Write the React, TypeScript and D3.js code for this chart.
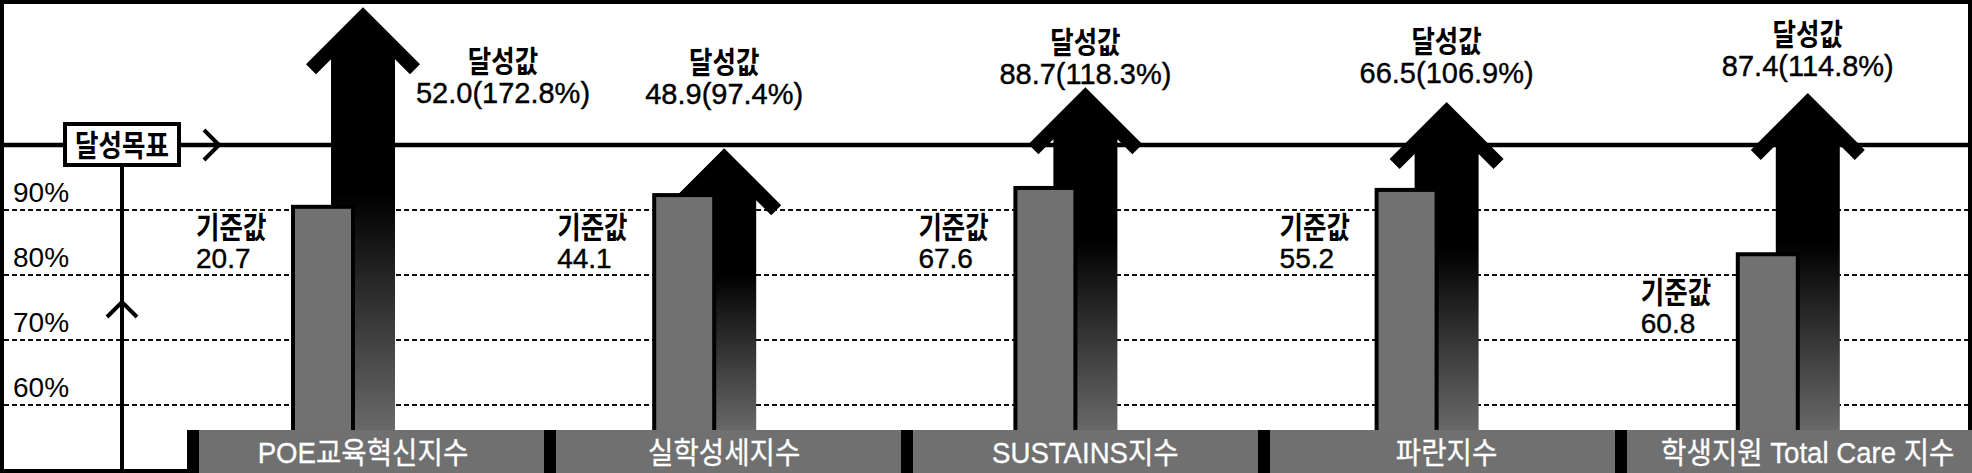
import * as d3 from 'd3';

const W = 1972;
const H = 473;

// categories and values
const categories = ['POE교육혁신지수', '실학성세지수', 'SUSTAINS지수', '파란지수', '학생지원 Total Care 지수'];
const baseValues = [20.7, 44.1, 67.6, 55.2, 60.8];
const achievedValues = [52.0, 48.9, 88.7, 66.5, 87.4];
const achievedRates = [172.8, 97.4, 118.3, 106.9, 114.8];
// heights on the % axis (illustrative marks as drawn)
const barLevels = [90.8, 92.6, 93.7, 93.4, 83.5];
const arrowLevels = [121.2, 99.5, 108.9, 106.6, 108.0];
// where the annotations sit on the % axis (number baseline)
const achLabelAt = [106.5, 106.3, 109.4, 109.5, 110.6];
const baseLabelAt = [81.1, 81.1, 81.1, 81.1, 71.1];
const gridTicks = [60, 70, 80, 90];
const targetLevel = 100;

const LATIN = "'Liberation Sans', Arial, 'Noto Sans CJK KR', sans-serif";
const KR = "'Noto Sans CJK KR', 'Noto Sans', sans-serif";
const STRIP_TOP = 430;
const GRAY = '#717171';

export default function App() {
  const y = d3.scaleLinear().domain([60, 90]).range([405, 210]);
  const xMark = d3.scaleBand<string>().domain(categories).range([182.4, 1988.4]);
  const xStrip = d3.scaleBand<string>().domain(categories).range([187, W]);
  const cx = (c: string) => (xMark(c) as number) + xMark.bandwidth() / 2;

  const arrowPath = (c: number, tip: number, base: number) => {
    const pts: [number, number][] = [
      [0, 0], [57, 57], [47, 67], [32, 52], [32, base - tip],
      [-32, base - tip], [-32, 52], [-47, 67], [-57, 57],
    ];
    return d3.line()(pts.map(([dx, dy]) => [c + dx, tip + dy])) + 'Z';
  };

  const yTarget = y(targetLevel);
  const boxX = 122;

  return (
    <svg width={W} height={H} style={{ position: 'absolute', left: 0, top: 0, display: 'block' }}>
      <defs>
        <linearGradient id="shaft" x1="0" y1="0" x2="0" y2="1">
          <stop offset="0" stopColor="#000" />
          <stop offset="0.44" stopColor="#000" />
          <stop offset="1" stopColor="#6b6b6b" />
        </linearGradient>
      </defs>
      <rect x={0} y={0} width={W} height={H} fill="#fff" />
      <rect x={2} y={2} width={W - 4} height={H - 4} fill="none" stroke="#000" strokeWidth={4} />

      {/* dotted gridlines + tick labels */}
      {gridTicks.map((t) => (
        <g key={t}>
          <line x1={4} x2={W - 4} y1={y(t)} y2={y(t)} stroke="#111" strokeWidth={2} strokeDasharray="5 3" />
          <text x={13} y={y(t) - 8} fontFamily={LATIN} fontSize={28} fill="#000">{t}%</text>
        </g>
      ))}

      {/* target line */}
      <line x1={0} x2={W} y1={yTarget} y2={yTarget} stroke="#000" strokeWidth={4.5} />
      <polyline points={`${boxX + 82},${yTarget - 15} ${boxX + 97},${yTarget} ${boxX + 82},${yTarget + 15}`}
        fill="none" stroke="#000" strokeWidth={4} />
      <line x1={boxX} x2={boxX} y1={yTarget + 20} y2={H} stroke="#000" strokeWidth={4} />
      <polyline points={`${boxX - 15},${317} ${boxX},${302} ${boxX + 15},${317}`}
        fill="none" stroke="#000" strokeWidth={4} />
      <rect x={boxX - 57} y={yTarget - 21} width={114} height={41} fill="#fff" stroke="#000" strokeWidth={4} />
      <text transform={`translate(${boxX},${yTarget + 11}) scale(0.85,1)`} textAnchor="middle"
        fontFamily={KR} fontWeight={700} fontSize={30} fill="#000">달성목표</text>

      {/* arrows (achieved) */}
      {categories.map((c, i) => (
        <path key={c} d={arrowPath(cx(c), y(arrowLevels[i]), STRIP_TOP + 4)} fill="url(#shaft)" />
      ))}

      {/* gray bars (baseline) */}
      {categories.map((c, i) => (
        <rect key={c} x={cx(c) - 70} y={y(barLevels[i]) + 2} width={60} height={STRIP_TOP + 4 - y(barLevels[i])}
          fill={GRAY} stroke="#000" strokeWidth={4} />
      ))}

      {/* category strips */}
      {categories.map((c) => (
        <g key={c}>
          <rect x={xStrip(c)} y={STRIP_TOP} width={12} height={H - STRIP_TOP} fill="#000" />
          <rect x={(xStrip(c) as number) + 12} y={STRIP_TOP} width={xStrip.bandwidth() - 12} height={H - STRIP_TOP} fill="#707070" />
          <text transform={`translate(${cx(c)},463) scale(0.92,1)`} textAnchor="middle"
            fontFamily={LATIN} fontSize={30} fill="#fff" stroke="#fff" strokeWidth={0.3}>{c}</text>
        </g>
      ))}

      {/* achieved labels */}
      {categories.map((c, i) => {
        const ly = y(achLabelAt[i]);
        const overlaps = y(arrowLevels[i]) < ly - 30;
        const lx = cx(c) + (overlaps ? 140 : 0);
        return (
          <g key={c}>
            <text transform={`translate(${lx},${ly - 31}) scale(0.85,1)`} textAnchor="middle"
              fontFamily={KR} fontWeight={700} fontSize={30} fill="#000">달성값</text>
            <text x={lx} y={ly} textAnchor="middle" fontFamily={LATIN} fontSize={29} fill="#000"
              stroke="#000" strokeWidth={0.4}>
              {`${achievedValues[i].toFixed(1)}(${achievedRates[i].toFixed(1)}%)`}
            </text>
          </g>
        );
      })}

      {/* baseline labels */}
      {categories.map((c, i) => {
        const ly = y(baseLabelAt[i]);
        const lx = cx(c) - 167;
        return (
          <g key={c}>
            <text transform={`translate(${lx},${ly - 30}) scale(0.85,1)`}
              fontFamily={KR} fontWeight={700} fontSize={30} fill="#000">기준값</text>
            <text x={lx} y={ly} fontFamily={LATIN} fontSize={28} fill="#000" stroke="#000" strokeWidth={0.4}>
              {baseValues[i].toFixed(1)}
            </text>
          </g>
        );
      })}
    </svg>
  );
}
